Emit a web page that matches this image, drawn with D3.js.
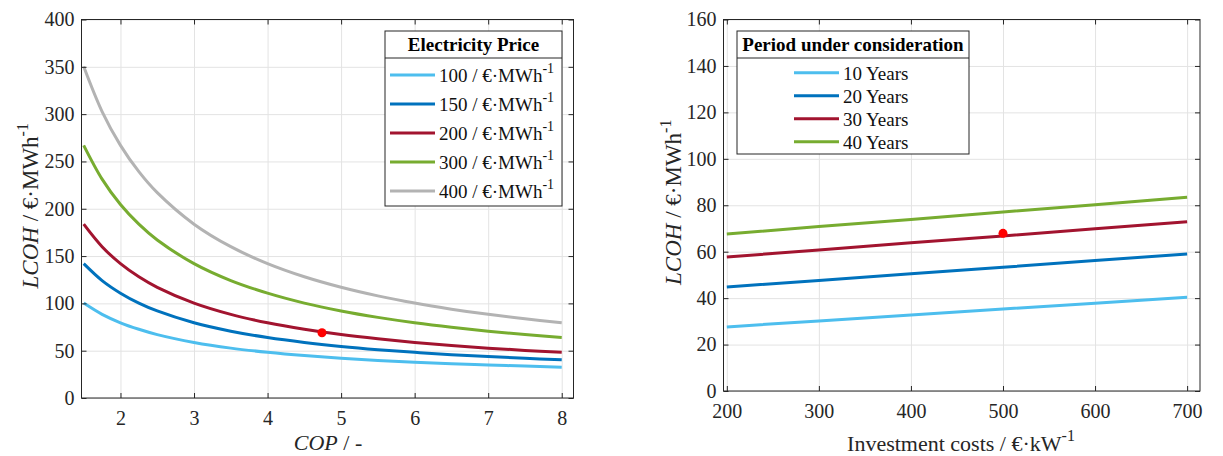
<!DOCTYPE html>
<html>
<head>
<meta charset="utf-8">
<script src="https://cdn.jsdelivr.net/npm/d3@7"></script>
<style>
  html, body { margin: 0; padding: 0; background: #fff; }
  svg { display: block; font-family: "Liberation Serif", "Times New Roman", serif; }
  svg text { font-family: "Liberation Serif", "Times New Roman", serif !important; }
</style>
</head>
<body>
<svg id="chart" width="1223" height="456"></svg>
<script>
// ---- Left panel: LCOH versus COP for several electricity prices ----
const copValues = [1.5, 1.75, 2, 2.25, 2.5, 3, 3.5, 4, 4.5, 5, 5.5, 6, 6.5, 7, 7.5, 8];
const priceLabels = ["100", "150", "200", "300", "400"];
const lcohPrice100 = [100.3, 88.4, 79.5, 72.6, 67.0, 58.7, 52.7, 48.3, 44.8, 42.0, 39.7, 37.8, 36.2, 34.9, 33.7, 32.6];
const lcohPrice150 = [142.0, 124.1, 110.8, 100.3, 92.0, 79.5, 70.6, 63.9, 58.7, 54.5, 51.1, 48.3, 45.8, 43.8, 42.0, 40.4];
const lcohPrice200 = [183.7, 159.9, 142.0, 128.1, 117.0, 100.3, 88.4, 79.5, 72.6, 67.0, 62.5, 58.7, 55.5, 52.7, 50.3, 48.3];
const lcohPrice300 = [267.0, 231.3, 204.5, 183.7, 167.0, 142.0, 124.1, 110.8, 100.3, 92.0, 85.2, 79.5, 74.7, 70.6, 67.0, 63.9];
const lcohPrice400 = [350.3, 302.7, 267.0, 239.2, 217.0, 183.7, 159.9, 142.0, 128.1, 117.0, 107.9, 100.3, 93.9, 88.4, 83.7, 79.5];
const copTicks = [2, 3, 4, 5, 6, 7, 8];
const lcohTicksLeft = [0, 50, 100, 150, 200, 250, 300, 350, 400];
const operatingPointLeft = { cop: 4.74, lcoh: 69 };

// ---- Right panel: LCOH versus investment costs for several periods ----
const investValues = [200, 300, 400, 500, 600, 700];
const periodLabels = ["10 Years", "20 Years", "30 Years", "40 Years"];
const lcohYears10 = [27.6, 30.2, 32.7, 35.3, 37.8, 40.4];
const lcohYears20 = [44.8, 47.6, 50.5, 53.3, 56.2, 59.0];
const lcohYears30 = [57.7, 60.7, 63.8, 66.8, 69.9, 72.9];
const lcohYears40 = [67.6, 70.8, 73.9, 77.1, 80.2, 83.4];
const investTicks = [200, 300, 400, 500, 600, 700];
const lcohTicksRight = [0, 20, 40, 60, 80, 100, 120, 140, 160];
const operatingPointRight = { invest: 500, lcoh: 67.9 };

const colors = ["#4DBEEE", "#0072BD", "#A2142F", "#77AC30", "#B3B3B3"];
const axisColor = "#262626";
const gridColor = "#E3E3E3";
const serif = '"Liberation Serif", "Times New Roman", serif';

const svg = d3.select("#chart");

function drawPanel(cfg) {
  const { x, y, xTicks, yTicks } = cfg;
  const [x0, x1] = x.range();
  const [y0, y1] = y.range(); // y0 bottom, y1 top
  const g = svg.append("g");

  // grid
  g.append("g").attr("transform", `translate(0,${y0})`)
    .call(d3.axisBottom(x).tickValues(xTicks).tickSize(-(y0 - y1)).tickFormat(""))
    .call(s => s.select(".domain").remove())
    .call(s => s.selectAll("line").attr("stroke", gridColor).attr("stroke-width", 1));
  g.append("g").attr("transform", `translate(${x0},0)`)
    .call(d3.axisLeft(y).tickValues(yTicks).tickSize(-(x1 - x0)).tickFormat(""))
    .call(s => s.select(".domain").remove())
    .call(s => s.selectAll("line").attr("stroke", gridColor).attr("stroke-width", 1));

  // series
  const line = d3.line()
    .x(d => x(d[0])).y(d => y(d[1]))
    .curve(cfg.curve);
  cfg.series.forEach((vals, i) => {
    g.append("path")
      .datum(cfg.xs.map((v, j) => [v, vals[j]]))
      .attr("fill", "none")
      .attr("stroke", colors[i])
      .attr("stroke-width", 3)
      .attr("d", line);
  });

  // operating point
  g.append("circle")
    .attr("cx", x(cfg.point[0])).attr("cy", y(cfg.point[1]))
    .attr("r", 4.5).attr("fill", "#FF0000");

  // axes (ticks point inward, box on)
  const styleAxis = s => {
    s.select(".domain").remove();
    s.attr("font-family", serif).attr("font-size", 20);
    s.selectAll("line").attr("stroke", axisColor);
    s.selectAll("text").attr("fill", axisColor)
      .style("font-family", serif).style("font-size", "20px");
  };
  g.append("g").attr("transform", `translate(0,${y0})`)
    .call(d3.axisBottom(x).tickValues(xTicks).tickSize(-5).tickPadding(13).tickFormat(d3.format("d")))
    .call(styleAxis);
  g.append("g").attr("transform", `translate(0,${y1})`)
    .call(d3.axisTop(x).tickValues(xTicks).tickSize(-5).tickFormat(""))
    .call(styleAxis);
  g.append("g").attr("transform", `translate(${x0},0)`)
    .call(d3.axisLeft(y).tickValues(yTicks).tickSize(-5).tickPadding(7).tickFormat(d3.format("d")))
    .call(styleAxis);
  g.append("g").attr("transform", `translate(${x1},0)`)
    .call(d3.axisRight(y).tickValues(yTicks).tickSize(-5).tickFormat(""))
    .call(styleAxis);
  g.append("rect")
    .attr("x", x0).attr("y", y1).attr("width", x1 - x0).attr("height", y0 - y1)
    .attr("fill", "none").attr("stroke", axisColor).attr("stroke-width", 1);

  // y label
  const yl = g.append("text")
    .attr("transform", `translate(${cfg.yLabelX},${(y0 + y1) / 2 - 3}) rotate(-90)`)
    .attr("text-anchor", "middle")
    .attr("font-size", 23).attr("fill", axisColor).attr("font-family", serif);
  yl.append("tspan").attr("font-style", "italic").text("LCOH");
  yl.append("tspan").text(" / €·MWh");
  yl.append("tspan").attr("font-size", 16).attr("dy", -10).text("-1");

  // x label
  const xl = g.append("text")
    .attr("x", cfg.xLabelCx).attr("y", cfg.xLabelY)
    .attr("text-anchor", "middle")
    .attr("font-size", 22).attr("fill", axisColor).attr("font-family", serif);
  cfg.xLabelParts.forEach(p => {
    const t = xl.append("tspan").text(p.text);
    if (p.italic) t.attr("font-style", "italic");
    if (p.sup) t.attr("font-size", 16).attr("dy", -10);
  });

  // legend
  const L = cfg.legend;
  const lg = g.append("g");
  lg.append("rect")
    .attr("x", L.x).attr("y", L.y).attr("width", L.w).attr("height", L.h)
    .attr("fill", "#fff").attr("stroke", axisColor).attr("stroke-width", 1);
  lg.append("line")
    .attr("x1", L.x).attr("x2", L.x + L.w).attr("y1", L.sepY).attr("y2", L.sepY)
    .attr("stroke", axisColor).attr("stroke-width", 1);
  lg.append("text")
    .attr("x", L.x + L.w / 2).attr("y", L.y + 20)
    .attr("text-anchor", "middle").attr("font-weight", "bold")
    .attr("font-size", 19).attr("fill", "#000").attr("font-family", serif)
    .text(L.title);
  L.labels.forEach((lab, i) => {
    const cy = L.firstY + i * L.step;
    lg.append("line")
      .attr("x1", L.lineX0).attr("x2", L.lineX0 + 45)
      .attr("y1", cy).attr("y2", cy)
      .attr("stroke", colors[i]).attr("stroke-width", 3);
    const t = lg.append("text")
      .attr("x", L.lineX0 + 49).attr("y", cy + 7)
      .attr("font-size", 19).attr("fill", "#111").attr("font-family", serif);
    t.append("tspan").text(lab + L.suffix);
    if (L.sup) t.append("tspan").attr("font-size", 14).attr("dy", -9).text(L.sup);
  });
}

// left panel
drawPanel({
  x: d3.scaleLinear().domain([1.47, 8.16]).range([81.5, 573.5]),
  y: d3.scaleLinear().domain([0, 400]).range([398, 19.5]),
  xTicks: copTicks, yTicks: lcohTicksLeft,
  xs: copValues,
  series: [lcohPrice100, lcohPrice150, lcohPrice200, lcohPrice300, lcohPrice400],
  curve: d3.curveCatmullRom.alpha(0.5),
  point: [operatingPointLeft.cop, operatingPointLeft.lcoh],
  yLabelX: 38,
  xLabelCx: 328, xLabelY: 450,
  xLabelParts: [{ text: "COP", italic: true }, { text: " / -" }],
  legend: {
    x: 385, y: 31, w: 177, h: 175, sepY: 58,
    title: "Electricity Price",
    labels: priceLabels, suffix: " / €·MWh", sup: "-1",
    lineX0: 390, firstY: 75, step: 29
  }
});

// right panel
drawPanel({
  x: d3.scaleLinear().domain([196.4, 714]).range([723.5, 1200]),
  y: d3.scaleLinear().domain([0, 160]).range([391, 19.5]),
  xTicks: investTicks, yTicks: lcohTicksRight,
  xs: investValues,
  series: [lcohYears10, lcohYears20, lcohYears30, lcohYears40],
  curve: d3.curveLinear,
  point: [operatingPointRight.invest, operatingPointRight.lcoh],
  yLabelX: 681,
  xLabelCx: 961, xLabelY: 451,
  xLabelParts: [{ text: "Investment costs / €·kW" }, { text: "-1", sup: true }],
  legend: {
    x: 737, y: 31, w: 232, h: 123, sepY: 58,
    title: "Period under consideration",
    labels: periodLabels, suffix: "", sup: null,
    lineX0: 794, firstY: 72.7, step: 23
  }
});
</script>
</body>
</html>
